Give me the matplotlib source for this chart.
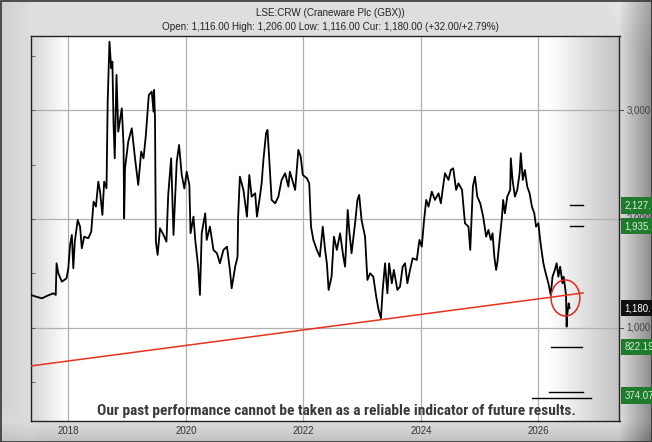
import numpy as np
import matplotlib.pyplot as plt
from matplotlib import font_manager
from matplotlib.patches import Ellipse
from matplotlib.transforms import blended_transform_factory

# price trace (decimal year, GBX)
years = [2017.37, 2017.45, 2017.55, 2017.65, 2017.745, 2017.786, 2017.80, 2017.83, 2017.89, 2017.97,
         2018.00, 2018.03, 2018.06, 2018.085, 2018.11, 2018.16, 2018.20, 2018.23, 2018.27, 2018.34,
         2018.39, 2018.43, 2018.47, 2018.51, 2018.54, 2018.58, 2018.61, 2018.65, 2018.67, 2018.70,
         2018.73, 2018.75, 2018.77, 2018.79, 2018.82, 2018.85, 2018.91, 2018.94, 2018.95, 2018.965,
         2019.02, 2019.08, 2019.135, 2019.19, 2019.24, 2019.28, 2019.32, 2019.37, 2019.42, 2019.45,
         2019.46, 2019.475, 2019.49, 2019.52, 2019.56, 2019.62, 2019.67, 2019.70, 2019.75, 2019.79,
         2019.845, 2019.885, 2019.93, 2019.975, 2020.015, 2020.06, 2020.08, 2020.13, 2020.16, 2020.21,
         2020.24, 2020.27, 2020.33, 2020.355, 2020.41, 2020.47, 2020.53, 2020.58, 2020.64, 2020.70,
         2020.75, 2020.78, 2020.84, 2020.88, 2020.89, 2020.92, 2020.98, 2021.04, 2021.08, 2021.12,
         2021.18, 2021.21, 2021.26, 2021.29, 2021.32, 2021.365, 2021.39, 2021.42, 2021.46, 2021.52,
         2021.575, 2021.63, 2021.69, 2021.745, 2021.77, 2021.86, 2021.915, 2021.955, 2021.99, 2022.06,
         2022.10, 2022.13, 2022.17, 2022.23, 2022.28, 2022.33, 2022.37, 2022.40, 2022.43, 2022.48,
         2022.52, 2022.57, 2022.625, 2022.68, 2022.71, 2022.755, 2022.78, 2022.82, 2022.88, 2022.92,
         2022.95, 2022.99, 2023.05, 2023.09, 2023.135, 2023.19, 2023.24, 2023.28, 2023.32, 2023.35,
         2023.39, 2023.43, 2023.46, 2023.505, 2023.54, 2023.60, 2023.645, 2023.69, 2023.73, 2023.77,
         2023.815, 2023.86, 2023.93, 2023.975, 2024.015, 2024.055, 2024.09, 2024.13, 2024.185, 2024.24,
         2024.30, 2024.34, 2024.37, 2024.41, 2024.47, 2024.51, 2024.55, 2024.60, 2024.64, 2024.70,
         2024.75, 2024.81, 2024.84, 2024.885, 2024.92, 2024.96, 2025.01, 2025.06, 2025.11, 2025.15,
         2025.19, 2025.22, 2025.25, 2025.28, 2025.30, 2025.34, 2025.38, 2025.40, 2025.43, 2025.47,
         2025.52, 2025.53, 2025.56, 2025.60, 2025.64, 2025.68, 2025.70, 2025.735, 2025.77, 2025.81,
         2025.85, 2025.89, 2025.93, 2025.96, 2026.00, 2026.03, 2026.06, 2026.085, 2026.11, 2026.14,
         2026.17, 2026.21, 2026.24, 2026.28, 2026.31, 2026.34, 2026.37, 2026.41, 2026.43, 2026.47,
         2026.48, 2026.49, 2026.515, 2026.53]
prices = [1300, 1285, 1270, 1295, 1316, 1301, 1592, 1500, 1423, 1454,
          1546, 1761, 1853, 1546, 1791, 1991, 1929, 1730, 1837, 1822,
          1883, 2159, 2113, 2343, 2251, 2037, 2343, 2282, 3079, 3631,
          3386, 3447, 2865, 2558, 3325, 2803, 3018, 2681, 2006, 2466,
          2711, 2834, 2558, 2313, 2619, 2558, 2773, 3141, 3171, 2987,
          3187, 2926, 1791, 1669, 1914, 1853, 1791, 2221, 2558, 1853,
          2527, 2681, 2405, 2280, 2435, 2313, 1868, 2021, 1807, 1561,
          1301, 1868, 2052, 1807, 1929, 1715, 1684, 1592, 1715, 1745,
          1531, 1362, 1561, 1653, 2021, 2389, 2267, 2021, 2405, 2205,
          2236, 2021, 2205, 2328, 2543, 2788, 2819, 2543, 2175, 2144,
          2205, 2359, 2420, 2297, 2435, 2267, 2635, 2573, 2405, 2374,
          2328, 1929, 1807, 1715, 1653, 1929, 1715, 1592, 1347, 1469,
          1837, 1715, 1868, 1653, 1561, 2083, 1899, 1684, 1960, 2175,
          2221, 1991, 1837, 1439, 1500, 1469, 1285, 1163, 1086, 1347,
          1592, 1316, 1592, 1408, 1531, 1347, 1377, 1561, 1592, 1408,
          1531, 1638, 1623, 1807, 1745, 1991, 2175, 2113, 2251, 2175,
          2236, 2144, 2267, 2420, 2359, 2451, 2466, 2267, 2328, 2267,
          1960, 1929, 1715, 2297, 2389, 2205, 2144, 2021, 1837, 1899,
          1807, 1868, 1653, 1531, 1592, 1807, 2021, 2175, 2052, 2205,
          2267, 2558, 2359, 2205, 2267, 2420, 2604, 2359, 2451, 2297,
          2236, 2113, 2052, 1929, 1960, 1807, 1684, 1592, 1531, 1469,
          1408, 1301, 1469, 1531, 1592, 1469, 1561, 1408, 1469, 1301,
          1009, 1117, 1224, 1180]

trend_years = [2017.365, 2026.76]
trend_prices = [648, 1319]

target_values = [2127, 1935, 822, 408, 356]
target_starts = [2026.54, 2026.54, 2026.22, 2026.18, 2025.89]
target_ends = [2026.76, 2026.76, 2026.74, 2026.76, 2026.89]

grid_values = [1000, 2000, 3000]
grid_labels = ['1,000.', '2,000.', '3,000.']
green_values = [2127, 1935, 822.19, 374.07]
green_labels = ['2,127.', '1,935.', '822.19', '374.07']
current_price = 1180
year_ticks = [2018, 2020, 2022, 2024, 2026]

plt.rcParams['font.family'] = ['Liberation Sans', 'DejaVu Sans']

# the footer uses a narrow bold face if one is installed
installed = {f.name for f in font_manager.fontManager.ttflist}
narrow = [n for n in ('Liberation Sans Narrow', 'Roboto Condensed', 'Open Sans Condensed') if n in installed]
if narrow:
    footer_font, footer_size = [narrow[0], 'Liberation Sans'], 11.05
else:
    footer_font, footer_size = ['Liberation Sans', 'DejaVu Sans'], 9.3

W, H = 652, 442
fig = plt.figure(figsize=(W / 100, H / 100), dpi=100)

# bevelled grey frame
bg = fig.add_axes([0, 0, 1, 1], zorder=-10)
xx, yy = np.meshgrid(np.arange(W), np.arange(H))
shade = 0.87 - 0.06 * np.clip((31 - xx) / 31, 0, 1)
shade -= 0.33 * np.clip((xx - 618) / 34, 0, 1)
shade -= 0.12 * np.clip((yy - 420) / 22, 0, 1)
shade += 0.08 * np.clip(1 - ((W - xx) + yy) / 60, 0, 1)
shade += 0.06 * np.clip(1 - (xx + (H - yy)) / 50, 0, 1)
bg.imshow(shade, cmap='gray', vmin=0, vmax=1, aspect='auto', extent=[0, W, H, 0])
bg.set_xlim(0, W)
bg.set_ylim(H, 0)
bg.axis('off')
bg.add_patch(plt.Rectangle((0.5, 0.5), W - 1, H - 1, fill=False, ec='#333333', lw=1.2))

x0, x1 = 2017.365, 2027.38
y0, y1 = 144, 3683
ax = fig.add_axes([31 / W, (H - 420.7) / H, (619.5 - 31) / W, (420.7 - 36) / H])

# interior edge shading
fx = np.linspace(0, 1, 400)
inner = np.vstack([1 - 0.16 * np.clip(1 - fx / 0.06, 0, 1) - 0.24 * np.clip((fx - 0.88) / 0.12, 0, 1)] * 2)
ax.imshow(inner, cmap='gray', vmin=0, vmax=1, aspect='auto', extent=[x0, x1, y0, y1], zorder=0)

ax.set_xlim(x0, x1)
ax.set_ylim(y0, y1)

for v in grid_values:
    ax.axhline(v, color='#b0b0b0', lw=0.9, zorder=1)
for yr in year_ticks:
    ax.axvline(yr, color='#b0b0b0', lw=0.9, zorder=1)

ax.plot(years, prices, color='black', lw=1.3, zorder=3)
ax.plot(trend_years, trend_prices, color='#e8321e', lw=1.1, zorder=4)
ax.add_patch(Ellipse((2026.46, 1273), 0.49, 331, fill=False, ec='#e0281c', lw=1.1, zorder=5))

for v, s, e in zip(target_values, target_starts, target_ends):
    ax.plot([s, e], [v, v], color='black', lw=1.0, zorder=4)

ax.text(2022.57, 232, 'Our past performance cannot be taken as a reliable indicator of future results.',
        ha='center', va='center', fontsize=footer_size, fontweight='bold', color='#3a3a3a',
        family=footer_font, zorder=6)

ax.set_xticks(year_ticks)
ax.set_xticklabels([str(y) for y in year_ticks])
ax.tick_params(axis='x', length=0, labelsize=7, labelcolor='#333333', pad=4)
ax.set_yticks([])
ax.set_yticks(np.arange(500, 3600, 500), minor=True)
ax.tick_params(axis='y', which='minor', direction='in', length=3, color='#555555')
for sp in ax.spines.values():
    sp.set_color('#222222')
    sp.set_linewidth(1.0)

tr = blended_transform_factory(ax.transAxes, ax.transData)
for v, lab in zip(grid_values, grid_labels):
    ax.plot([1.0, 1.006], [v, v], color='#555555', lw=0.8, transform=tr, clip_on=False)
    ax.text(1.012, v, lab, transform=tr, ha='left', va='center', fontsize=7,
            color='#444444', clip_on=False, zorder=6)
for v, lab in zip(green_values, green_labels):
    ax.text(1.008, v, lab, transform=tr, ha='left', va='center', fontsize=7,
            color='#d8f0d8', clip_on=False, zorder=7,
            bbox=dict(boxstyle='square,pad=0.35', fc='#1f7a2c', ec='none'))
ax.text(1.008, current_price, '{:,.0f}.'.format(current_price), transform=tr, ha='left', va='center',
        fontsize=7, color='white', clip_on=False, zorder=7,
        bbox=dict(boxstyle='square,pad=0.35', fc='#111111', ec='none'))

fig.text(330 / W, 1 - 12.5 / H, 'LSE:CRW (Craneware Plc (GBX))', ha='center', va='center',
         fontsize=7.1, color='#222222')
fig.text(330 / W, 1 - 27.5 / H,
         'Open: 1,116.00 High: 1,206.00 Low: 1,116.00 Cur: 1,180.00 (+32.00/+2.79%)',
         ha='center', va='center', fontsize=7.1, color='#222222')

fig.savefig('out.png', dpi=100)
